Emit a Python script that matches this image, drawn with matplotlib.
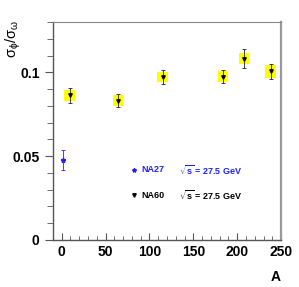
import numpy as np
import matplotlib
matplotlib.use("Agg")
import matplotlib.pyplot as plt
from matplotlib.patches import Rectangle
from matplotlib.ticker import MultipleLocator

plt.rcParams['font.family'] = ['Liberation Sans', 'DejaVu Sans']
plt.rcParams['mathtext.fontset'] = 'custom'
plt.rcParams['mathtext.rm'] = 'Liberation Sans'
plt.rcParams['mathtext.it'] = 'Liberation Sans'
plt.rcParams['mathtext.bf'] = 'Liberation Sans:bold'

# NA60 data
na60_A = [9, 64, 115, 184, 208, 238]
na60_ratio = [0.0862, 0.0832, 0.0972, 0.0974, 0.1082, 0.1006]
na60_stat = [0.0042, 0.0038, 0.0042, 0.0038, 0.0057, 0.0043]
na60_syst = [0.0034, 0.0033, 0.0030, 0.0032, 0.0034, 0.0040]
syst_halfwidth = 6.0

# NA27 data
na27_A = [1]
na27_ratio = [0.0479]
na27_stat = [0.0060]

fig = plt.figure(figsize=(2.99, 2.87), dpi=100)
ax = fig.add_axes([0.177, 0.164, 0.763, 0.759])

for a, r, s in zip(na60_A, na60_ratio, na60_syst):
    ax.add_patch(Rectangle((a - syst_halfwidth, r - s), 2 * syst_halfwidth, 2 * s,
                           facecolor='#ffff00', edgecolor='none', zorder=1))

ax.errorbar(na60_A, na60_ratio, yerr=na60_stat, fmt='v', color='black',
            ms=2.5, elinewidth=0.6, ecolor='#222222', capsize=1.2, capthick=0.6, zorder=3)
ax.errorbar(na27_A, na27_ratio, yerr=na27_stat, fmt='*', color='#2020ff',
            ms=3.5, elinewidth=0.6, capsize=1.2, capthick=0.6, zorder=3)

ax.set_xlim(-10, 250)
ax.set_ylim(0, 0.13)
ax.xaxis.set_major_locator(MultipleLocator(50))
ax.xaxis.set_minor_locator(MultipleLocator(10))
ax.yaxis.set_major_locator(MultipleLocator(0.05))
ax.yaxis.set_minor_locator(MultipleLocator(0.01))
ax.yaxis.set_major_formatter(plt.FuncFormatter(lambda v, p: '0' if v == 0 else f'{v:g}'))

ax.tick_params(axis='x', which='both', direction='in', top=False, labelsize=10,
               color='#555555')
ax.tick_params(axis='x', which='major', length=5)
ax.tick_params(axis='x', which='minor', length=3)
ax.tick_params(axis='y', which='both', direction='out', right=False, labelsize=10,
               color='#555555')
ax.tick_params(axis='y', which='major', length=6)
ax.tick_params(axis='y', which='minor', length=4)
for lab in ax.get_xticklabels() + ax.get_yticklabels():
    lab.set_fontweight('bold')

for side in ['left', 'bottom']:
    ax.spines[side].set_color('#555555')
    ax.spines[side].set_linewidth(1.0)
ax.spines['top'].set_color('#888888')
ax.spines['right'].set_color('#999999')
ax.spines['right'].set_linewidth(1.6)

ax.set_xlabel('A', fontsize=10, fontweight='bold')
ax.xaxis.set_label_coords(0.975, -0.14)
fig.text(0.045, 0.865, r'$\sigma_\phi/\sigma_\omega$', rotation=90, fontsize=10.5,
         ha='center', va='center')

# legend
leg_y = [0.0418, 0.0268]
leg_names = ['NA27', 'NA60']
leg_colors = ['#2020ff', 'black']
leg_markers = ['*', 'v']
for y, name, c, m in zip(leg_y, leg_names, leg_colors, leg_markers):
    ax.plot([82], [y], marker=m, color=c, ms=3 if m == '*' else 2.5, ls='none')
    ax.text(91, y, name, color=c, fontsize=6.5, fontweight='bold', va='center')
    ax.text(134, y, r'$\sqrt{\mathbf{s}}$ = 27.5 GeV', color=c, fontsize=6.5,
            fontweight='bold', va='center')

fig.savefig('out.png', dpi=100)
